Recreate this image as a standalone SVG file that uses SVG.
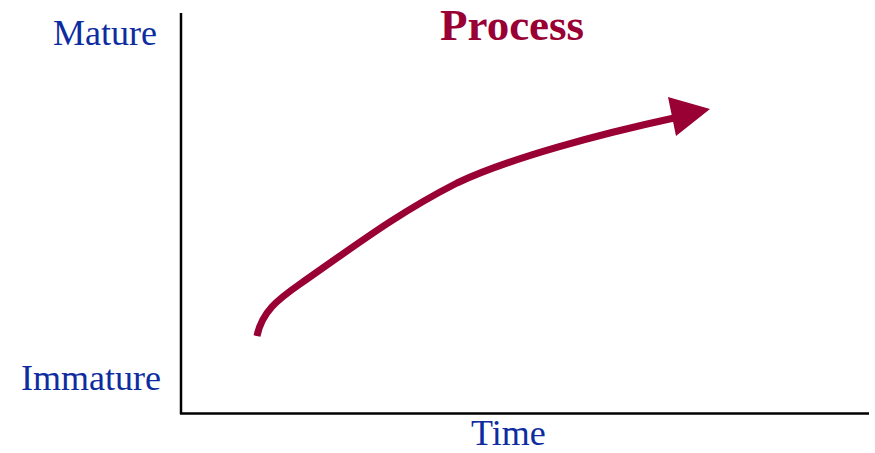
<svg xmlns="http://www.w3.org/2000/svg" width="875" height="453" viewBox="0 0 875 453">
  <style>
    .axis { stroke: #000; stroke-width: 2.5; fill: none; }
    .lbl { font-family: "Liberation Serif", "Times New Roman", serif; font-size: 36px; fill: #0d2ca0; }
    .title { font-family: "Liberation Serif", "Times New Roman", serif; font-size: 45px; font-weight: bold; fill: #990033; }
    .curve { stroke: #990033; stroke-width: 7; fill: none; }
    .head { fill: #990033; }
  </style>
  <rect width="875" height="453" fill="#fff"/>
  <g id="axes">
    <line class="axis" x1="181" y1="13" x2="181" y2="414"/>
    <line class="axis" x1="180" y1="413.5" x2="869" y2="413.5"/>
  </g>
  <g id="labels">
    <text class="lbl" x="53" y="45">Mature</text>
    <text class="lbl" x="21" y="390">Immature</text>
    <text class="lbl" x="471" y="445">Time</text>
    <text class="title" x="440" y="40">Process</text>
  </g>
  <g id="connectors">
    <path class="curve" d="M257,336 C262,312 277,300 300,284 C360,242 400,212 457,183 C510,158 600,134 674,118"/>
    <polygon class="head" points="710,109 668,97 676,136"/>
  </g>
</svg>
